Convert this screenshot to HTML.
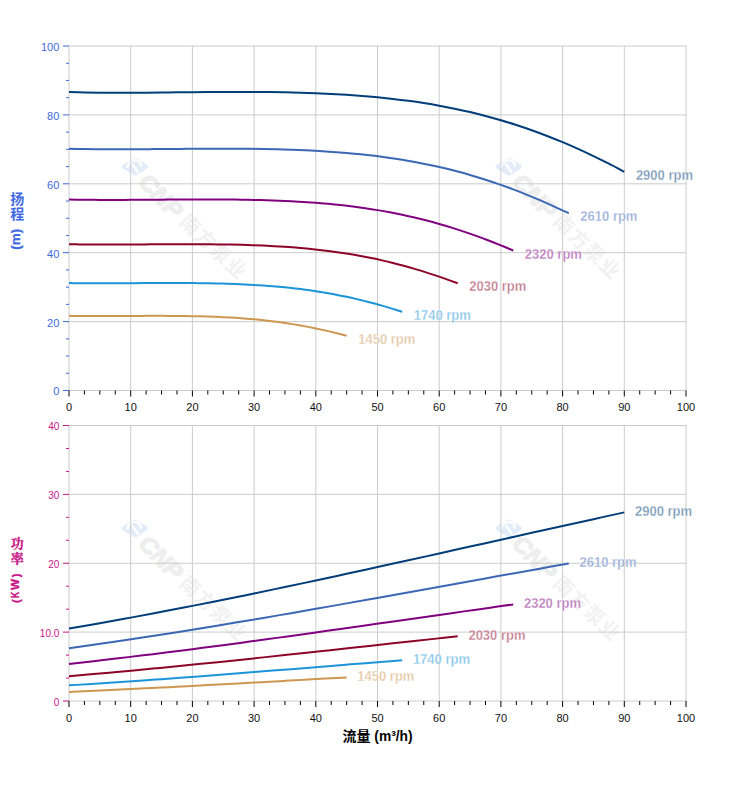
<!DOCTYPE html>
<html><head><meta charset="utf-8"><title>Pump curves</title>
<style>html,body{margin:0;padding:0;background:#fff;font-family:"Liberation Sans",sans-serif}svg{display:block}</style>
</head><body>
<svg width="752" height="797" viewBox="0 0 752 797" style="display:block;font-family:'Liberation Sans', sans-serif">
<rect width="752" height="797" fill="#fff"/>
<g transform="translate(135.0 166.7)"><path d="M-10.5 0 L0.5 -6.4 L10.5 0 L0.2 6.5 Z" fill="#e3edf8" stroke="#e3edf8" stroke-width="5" stroke-linejoin="round"/><path d="M-7.6 0.2 C-7 -4.5 -2.5 -7 1.5 -6.4 C4.6 -5.8 6 -3.2 6 -0.6 M-2.4 -2.2 L2.9 5.3" fill="none" stroke="#fff" stroke-width="2.3" stroke-linecap="round"/><g transform="rotate(45.6)" opacity="0.068"><text x="13.2" y="9.8" font-size="23" font-weight="bold" font-style="italic" fill="#111" stroke="#111" stroke-width="1.5" textLength="51.5" lengthAdjust="spacingAndGlyphs">CNP</text></g><g transform="translate(55.3 57.7) rotate(43.6)" opacity="0.052"><text x="-10 11.1 32.2 53.3" y="7.4" font-size="20" font-weight="bold" fill="#111" font-family="'Liberation Sans', 'Noto Sans CJK SC', sans-serif">南方泵业</text></g></g>
<g transform="translate(508.7 166.7)"><path d="M-10.5 0 L0.5 -6.4 L10.5 0 L0.2 6.5 Z" fill="#e3edf8" stroke="#e3edf8" stroke-width="5" stroke-linejoin="round"/><path d="M-7.6 0.2 C-7 -4.5 -2.5 -7 1.5 -6.4 C4.6 -5.8 6 -3.2 6 -0.6 M-2.4 -2.2 L2.9 5.3" fill="none" stroke="#fff" stroke-width="2.3" stroke-linecap="round"/><g transform="rotate(45.6)" opacity="0.068"><text x="13.2" y="9.8" font-size="23" font-weight="bold" font-style="italic" fill="#111" stroke="#111" stroke-width="1.5" textLength="51.5" lengthAdjust="spacingAndGlyphs">CNP</text></g><g transform="translate(55.3 57.7) rotate(43.6)" opacity="0.052"><text x="-10 11.1 32.2 53.3" y="7.4" font-size="20" font-weight="bold" fill="#111" font-family="'Liberation Sans', 'Noto Sans CJK SC', sans-serif">南方泵业</text></g></g>
<g transform="translate(135.0 528.4)"><path d="M-10.5 0 L0.5 -6.4 L10.5 0 L0.2 6.5 Z" fill="#e3edf8" stroke="#e3edf8" stroke-width="5" stroke-linejoin="round"/><path d="M-7.6 0.2 C-7 -4.5 -2.5 -7 1.5 -6.4 C4.6 -5.8 6 -3.2 6 -0.6 M-2.4 -2.2 L2.9 5.3" fill="none" stroke="#fff" stroke-width="2.3" stroke-linecap="round"/><g transform="rotate(45.6)" opacity="0.068"><text x="13.2" y="9.8" font-size="23" font-weight="bold" font-style="italic" fill="#111" stroke="#111" stroke-width="1.5" textLength="51.5" lengthAdjust="spacingAndGlyphs">CNP</text></g><g transform="translate(55.3 57.7) rotate(43.6)" opacity="0.052"><text x="-10 11.1 32.2 53.3" y="7.4" font-size="20" font-weight="bold" fill="#111" font-family="'Liberation Sans', 'Noto Sans CJK SC', sans-serif">南方泵业</text></g></g>
<g transform="translate(508.7 528.4)"><path d="M-10.5 0 L0.5 -6.4 L10.5 0 L0.2 6.5 Z" fill="#e3edf8" stroke="#e3edf8" stroke-width="5" stroke-linejoin="round"/><path d="M-7.6 0.2 C-7 -4.5 -2.5 -7 1.5 -6.4 C4.6 -5.8 6 -3.2 6 -0.6 M-2.4 -2.2 L2.9 5.3" fill="none" stroke="#fff" stroke-width="2.3" stroke-linecap="round"/><g transform="rotate(45.6)" opacity="0.068"><text x="13.2" y="9.8" font-size="23" font-weight="bold" font-style="italic" fill="#111" stroke="#111" stroke-width="1.5" textLength="51.5" lengthAdjust="spacingAndGlyphs">CNP</text></g><g transform="translate(55.3 57.7) rotate(43.6)" opacity="0.052"><text x="-10 11.1 32.2 53.3" y="7.4" font-size="20" font-weight="bold" fill="#111" font-family="'Liberation Sans', 'Noto Sans CJK SC', sans-serif">南方泵业</text></g></g>
<g stroke="#cccccc" stroke-width="1" fill="none"><line x1="69.00" y1="45.50" x2="69.00" y2="391.00"/><line x1="130.70" y1="45.50" x2="130.70" y2="391.00"/><line x1="192.40" y1="45.50" x2="192.40" y2="391.00"/><line x1="254.10" y1="45.50" x2="254.10" y2="391.00"/><line x1="315.80" y1="45.50" x2="315.80" y2="391.00"/><line x1="377.50" y1="45.50" x2="377.50" y2="391.00"/><line x1="439.20" y1="45.50" x2="439.20" y2="391.00"/><line x1="500.90" y1="45.50" x2="500.90" y2="391.00"/><line x1="562.60" y1="45.50" x2="562.60" y2="391.00"/><line x1="624.30" y1="45.50" x2="624.30" y2="391.00"/><line x1="686.00" y1="45.50" x2="686.00" y2="391.00"/><line x1="68.50" y1="46.00" x2="686.50" y2="46.00"/><line x1="68.50" y1="114.90" x2="686.50" y2="114.90"/><line x1="68.50" y1="183.80" x2="686.50" y2="183.80"/><line x1="68.50" y1="252.70" x2="686.50" y2="252.70"/><line x1="68.50" y1="321.60" x2="686.50" y2="321.60"/><line x1="68.50" y1="390.50" x2="686.50" y2="390.50"/></g>
<g stroke="#cccccc" stroke-width="1" fill="none"><line x1="69.00" y1="425.00" x2="69.00" y2="701.50"/><line x1="130.70" y1="425.00" x2="130.70" y2="701.50"/><line x1="192.40" y1="425.00" x2="192.40" y2="701.50"/><line x1="254.10" y1="425.00" x2="254.10" y2="701.50"/><line x1="315.80" y1="425.00" x2="315.80" y2="701.50"/><line x1="377.50" y1="425.00" x2="377.50" y2="701.50"/><line x1="439.20" y1="425.00" x2="439.20" y2="701.50"/><line x1="500.90" y1="425.00" x2="500.90" y2="701.50"/><line x1="562.60" y1="425.00" x2="562.60" y2="701.50"/><line x1="624.30" y1="425.00" x2="624.30" y2="701.50"/><line x1="686.00" y1="425.00" x2="686.00" y2="701.50"/><line x1="68.50" y1="425.50" x2="686.50" y2="425.50"/><line x1="68.50" y1="494.38" x2="686.50" y2="494.38"/><line x1="68.50" y1="563.25" x2="686.50" y2="563.25"/><line x1="68.50" y1="632.12" x2="686.50" y2="632.12"/><line x1="68.50" y1="701.00" x2="686.50" y2="701.00"/></g>
<g stroke="#4169e1" stroke-width="1"><line x1="63" y1="46.00" x2="69" y2="46.00"/><line x1="66" y1="63.23" x2="69" y2="63.23"/><line x1="66" y1="80.45" x2="69" y2="80.45"/><line x1="66" y1="97.68" x2="69" y2="97.68"/><line x1="63" y1="114.90" x2="69" y2="114.90"/><line x1="66" y1="132.12" x2="69" y2="132.12"/><line x1="66" y1="149.35" x2="69" y2="149.35"/><line x1="66" y1="166.58" x2="69" y2="166.58"/><line x1="63" y1="183.80" x2="69" y2="183.80"/><line x1="66" y1="201.03" x2="69" y2="201.03"/><line x1="66" y1="218.25" x2="69" y2="218.25"/><line x1="66" y1="235.48" x2="69" y2="235.48"/><line x1="63" y1="252.70" x2="69" y2="252.70"/><line x1="66" y1="269.93" x2="69" y2="269.93"/><line x1="66" y1="287.15" x2="69" y2="287.15"/><line x1="66" y1="304.38" x2="69" y2="304.38"/><line x1="63" y1="321.60" x2="69" y2="321.60"/><line x1="66" y1="338.83" x2="69" y2="338.83"/><line x1="66" y1="356.05" x2="69" y2="356.05"/><line x1="66" y1="373.28" x2="69" y2="373.28"/><line x1="63" y1="390.50" x2="69" y2="390.50"/></g>
<g stroke="#c71585" stroke-width="1"><line x1="63" y1="425.50" x2="69" y2="425.50"/><line x1="66" y1="448.46" x2="69" y2="448.46"/><line x1="66" y1="471.42" x2="69" y2="471.42"/><line x1="63" y1="494.38" x2="69" y2="494.38"/><line x1="66" y1="517.33" x2="69" y2="517.33"/><line x1="66" y1="540.29" x2="69" y2="540.29"/><line x1="63" y1="563.25" x2="69" y2="563.25"/><line x1="66" y1="586.21" x2="69" y2="586.21"/><line x1="66" y1="609.17" x2="69" y2="609.17"/><line x1="63" y1="632.12" x2="69" y2="632.12"/><line x1="66" y1="655.08" x2="69" y2="655.08"/><line x1="66" y1="678.04" x2="69" y2="678.04"/><line x1="63" y1="701.00" x2="69" y2="701.00"/></g>
<g stroke="#000" stroke-width="1"><line x1="69.00" y1="390.50" x2="69.00" y2="396.50"/><line x1="84.42" y1="390.50" x2="84.42" y2="394.50"/><line x1="99.85" y1="390.50" x2="99.85" y2="394.50"/><line x1="115.28" y1="390.50" x2="115.28" y2="394.50"/><line x1="130.70" y1="390.50" x2="130.70" y2="396.50"/><line x1="146.12" y1="390.50" x2="146.12" y2="394.50"/><line x1="161.55" y1="390.50" x2="161.55" y2="394.50"/><line x1="176.97" y1="390.50" x2="176.97" y2="394.50"/><line x1="192.40" y1="390.50" x2="192.40" y2="396.50"/><line x1="207.82" y1="390.50" x2="207.82" y2="394.50"/><line x1="223.25" y1="390.50" x2="223.25" y2="394.50"/><line x1="238.68" y1="390.50" x2="238.68" y2="394.50"/><line x1="254.10" y1="390.50" x2="254.10" y2="396.50"/><line x1="269.52" y1="390.50" x2="269.52" y2="394.50"/><line x1="284.95" y1="390.50" x2="284.95" y2="394.50"/><line x1="300.38" y1="390.50" x2="300.38" y2="394.50"/><line x1="315.80" y1="390.50" x2="315.80" y2="396.50"/><line x1="331.23" y1="390.50" x2="331.23" y2="394.50"/><line x1="346.65" y1="390.50" x2="346.65" y2="394.50"/><line x1="362.07" y1="390.50" x2="362.07" y2="394.50"/><line x1="377.50" y1="390.50" x2="377.50" y2="396.50"/><line x1="392.93" y1="390.50" x2="392.93" y2="394.50"/><line x1="408.35" y1="390.50" x2="408.35" y2="394.50"/><line x1="423.77" y1="390.50" x2="423.77" y2="394.50"/><line x1="439.20" y1="390.50" x2="439.20" y2="396.50"/><line x1="454.62" y1="390.50" x2="454.62" y2="394.50"/><line x1="470.05" y1="390.50" x2="470.05" y2="394.50"/><line x1="485.48" y1="390.50" x2="485.48" y2="394.50"/><line x1="500.90" y1="390.50" x2="500.90" y2="396.50"/><line x1="516.33" y1="390.50" x2="516.33" y2="394.50"/><line x1="531.75" y1="390.50" x2="531.75" y2="394.50"/><line x1="547.17" y1="390.50" x2="547.17" y2="394.50"/><line x1="562.60" y1="390.50" x2="562.60" y2="396.50"/><line x1="578.02" y1="390.50" x2="578.02" y2="394.50"/><line x1="593.45" y1="390.50" x2="593.45" y2="394.50"/><line x1="608.88" y1="390.50" x2="608.88" y2="394.50"/><line x1="624.30" y1="390.50" x2="624.30" y2="396.50"/><line x1="639.73" y1="390.50" x2="639.73" y2="394.50"/><line x1="655.15" y1="390.50" x2="655.15" y2="394.50"/><line x1="670.58" y1="390.50" x2="670.58" y2="394.50"/><line x1="686.00" y1="390.50" x2="686.00" y2="396.50"/></g>
<g stroke="#000" stroke-width="1"><line x1="69.00" y1="701.00" x2="69.00" y2="707.00"/><line x1="84.42" y1="701.00" x2="84.42" y2="705.00"/><line x1="99.85" y1="701.00" x2="99.85" y2="705.00"/><line x1="115.28" y1="701.00" x2="115.28" y2="705.00"/><line x1="130.70" y1="701.00" x2="130.70" y2="707.00"/><line x1="146.12" y1="701.00" x2="146.12" y2="705.00"/><line x1="161.55" y1="701.00" x2="161.55" y2="705.00"/><line x1="176.97" y1="701.00" x2="176.97" y2="705.00"/><line x1="192.40" y1="701.00" x2="192.40" y2="707.00"/><line x1="207.82" y1="701.00" x2="207.82" y2="705.00"/><line x1="223.25" y1="701.00" x2="223.25" y2="705.00"/><line x1="238.68" y1="701.00" x2="238.68" y2="705.00"/><line x1="254.10" y1="701.00" x2="254.10" y2="707.00"/><line x1="269.52" y1="701.00" x2="269.52" y2="705.00"/><line x1="284.95" y1="701.00" x2="284.95" y2="705.00"/><line x1="300.38" y1="701.00" x2="300.38" y2="705.00"/><line x1="315.80" y1="701.00" x2="315.80" y2="707.00"/><line x1="331.23" y1="701.00" x2="331.23" y2="705.00"/><line x1="346.65" y1="701.00" x2="346.65" y2="705.00"/><line x1="362.07" y1="701.00" x2="362.07" y2="705.00"/><line x1="377.50" y1="701.00" x2="377.50" y2="707.00"/><line x1="392.93" y1="701.00" x2="392.93" y2="705.00"/><line x1="408.35" y1="701.00" x2="408.35" y2="705.00"/><line x1="423.77" y1="701.00" x2="423.77" y2="705.00"/><line x1="439.20" y1="701.00" x2="439.20" y2="707.00"/><line x1="454.62" y1="701.00" x2="454.62" y2="705.00"/><line x1="470.05" y1="701.00" x2="470.05" y2="705.00"/><line x1="485.48" y1="701.00" x2="485.48" y2="705.00"/><line x1="500.90" y1="701.00" x2="500.90" y2="707.00"/><line x1="516.33" y1="701.00" x2="516.33" y2="705.00"/><line x1="531.75" y1="701.00" x2="531.75" y2="705.00"/><line x1="547.17" y1="701.00" x2="547.17" y2="705.00"/><line x1="562.60" y1="701.00" x2="562.60" y2="707.00"/><line x1="578.02" y1="701.00" x2="578.02" y2="705.00"/><line x1="593.45" y1="701.00" x2="593.45" y2="705.00"/><line x1="608.88" y1="701.00" x2="608.88" y2="705.00"/><line x1="624.30" y1="701.00" x2="624.30" y2="707.00"/><line x1="639.73" y1="701.00" x2="639.73" y2="705.00"/><line x1="655.15" y1="701.00" x2="655.15" y2="705.00"/><line x1="670.58" y1="701.00" x2="670.58" y2="705.00"/><line x1="686.00" y1="701.00" x2="686.00" y2="707.00"/></g>
<g font-size="11" fill="#4169e1" text-anchor="end"><text x="59.3" y="51.00">100</text><text x="59.3" y="120.00">80</text><text x="59.3" y="189.00">60</text><text x="59.3" y="258.00">40</text><text x="59.3" y="327.00">20</text><text x="59.3" y="395.00">0</text></g>
<g font-size="10" fill="#c71585" text-anchor="end"><text x="59.3" y="430.00">40</text><text x="59.3" y="499.00">30</text><text x="59.3" y="568.00">20</text><text x="59.3" y="637.00">10.0</text><text x="59.3" y="706.00">0</text></g>
<g font-size="11" fill="#111" text-anchor="middle"><text x="69.00" y="411.20">0</text><text x="130.70" y="411.20">10</text><text x="192.40" y="411.20">20</text><text x="254.10" y="411.20">30</text><text x="315.80" y="411.20">40</text><text x="377.50" y="411.20">50</text><text x="439.20" y="411.20">60</text><text x="500.90" y="411.20">70</text><text x="562.60" y="411.20">80</text><text x="624.30" y="411.20">90</text><text x="686.00" y="411.20">100</text></g>
<g font-size="11" fill="#111" text-anchor="middle"><text x="69.00" y="722.20">0</text><text x="130.70" y="722.20">10</text><text x="192.40" y="722.20">20</text><text x="254.10" y="722.20">30</text><text x="315.80" y="722.20">40</text><text x="377.50" y="722.20">50</text><text x="439.20" y="722.20">60</text><text x="500.90" y="722.20">70</text><text x="562.60" y="722.20">80</text><text x="624.30" y="722.20">90</text><text x="686.00" y="722.20">100</text></g>
<path d="M69.00 91.99C71.57 92.06 79.28 92.29 84.42 92.40C89.57 92.51 94.71 92.58 99.85 92.63C104.99 92.69 110.13 92.71 115.28 92.72C120.42 92.74 125.56 92.73 130.70 92.71C135.84 92.70 140.98 92.67 146.12 92.63C151.27 92.60 156.41 92.55 161.55 92.50C166.69 92.46 171.83 92.40 176.97 92.36C182.12 92.31 187.26 92.25 192.40 92.21C197.54 92.16 202.68 92.12 207.82 92.08C212.97 92.04 218.11 92.01 223.25 91.99C228.39 91.97 233.53 91.95 238.68 91.95C243.82 91.96 248.96 91.96 254.10 91.99C259.24 92.02 264.38 92.06 269.52 92.12C274.67 92.18 279.81 92.26 284.95 92.36C290.09 92.46 295.23 92.58 300.38 92.72C305.52 92.87 310.66 93.04 315.80 93.24C320.94 93.44 326.08 93.67 331.23 93.93C336.37 94.19 341.51 94.48 346.65 94.81C351.79 95.14 356.93 95.51 362.07 95.91C367.22 96.32 372.36 96.77 377.50 97.26C382.64 97.76 387.78 98.30 392.93 98.89C398.07 99.48 403.21 100.12 408.35 100.81C413.49 101.51 418.63 102.26 423.77 103.07C428.92 103.88 434.06 104.74 439.20 105.68C444.34 106.61 449.48 107.61 454.62 108.67C459.77 109.74 464.91 110.87 470.05 112.08C475.19 113.29 480.33 114.56 485.48 115.92C490.62 117.28 495.76 118.70 500.90 120.21C506.04 121.72 511.18 123.31 516.33 124.98C521.47 126.65 526.61 128.40 531.75 130.23C536.89 132.06 542.03 133.98 547.17 135.97C552.32 137.97 557.46 140.05 562.60 142.20C567.74 144.36 572.88 146.60 578.02 148.92C583.17 151.24 588.31 153.64 593.45 156.10C598.59 158.57 603.73 161.12 608.88 163.72C614.02 166.33 621.73 170.41 624.30 171.75" fill="none" stroke="#003d79" stroke-width="2" stroke-linecap="butt"/>
<text transform="translate(635.90 179.75) scale(1 1.07)" font-size="13" font-weight="bold" fill="#7394b5" stroke="#fff" stroke-width="0.3">2900 rpm</text>
<path d="M69.00 628.54C74.14 627.65 89.57 625.01 99.85 623.19C110.13 621.37 120.42 619.51 130.70 617.62C140.98 615.73 151.27 613.80 161.55 611.84C171.83 609.88 182.12 607.89 192.40 605.88C202.68 603.86 212.97 601.81 223.25 599.74C233.53 597.67 243.82 595.57 254.10 593.45C264.38 591.33 274.67 589.18 284.95 587.02C295.23 584.86 305.52 582.68 315.80 580.48C326.08 578.28 336.37 576.06 346.65 573.83C356.93 571.60 367.22 569.36 377.50 567.10C387.78 564.85 398.07 562.58 408.35 560.31C418.63 558.04 428.92 555.75 439.20 553.47C449.48 551.18 459.77 548.89 470.05 546.59C480.33 544.30 490.62 542.00 500.90 539.71C511.18 537.41 521.47 535.12 531.75 532.83C542.03 530.54 552.32 528.25 562.60 525.97C572.88 523.69 583.17 521.41 593.45 519.15C603.73 516.88 619.16 513.51 624.30 512.38" fill="none" stroke="#003d79" stroke-width="2" stroke-linecap="butt"/>
<text transform="translate(635.00 516.08) scale(1 1.07)" font-size="13" font-weight="bold" fill="#7394b5" stroke="#fff" stroke-width="0.3">2900 rpm</text>
<path d="M69.00 148.70C71.31 148.76 78.25 148.95 82.88 149.04C87.51 149.13 92.14 149.18 96.77 149.23C101.39 149.27 106.02 149.29 110.65 149.30C115.28 149.31 119.90 149.31 124.53 149.29C129.16 149.28 133.78 149.25 138.41 149.23C143.04 149.20 147.67 149.16 152.30 149.12C156.92 149.09 161.55 149.04 166.18 149.00C170.81 148.96 175.43 148.92 180.06 148.88C184.69 148.85 189.31 148.81 193.94 148.78C198.57 148.75 203.20 148.72 207.82 148.71C212.45 148.69 217.08 148.68 221.71 148.68C226.34 148.68 230.96 148.69 235.59 148.71C240.22 148.73 244.84 148.76 249.47 148.81C254.10 148.86 258.73 148.92 263.36 149.00C267.98 149.09 272.61 149.18 277.24 149.30C281.87 149.42 286.49 149.56 291.12 149.72C295.75 149.88 300.38 150.06 305.00 150.28C309.63 150.49 314.26 150.72 318.88 150.99C323.51 151.26 328.14 151.55 332.77 151.89C337.39 152.22 342.02 152.58 346.65 152.98C351.28 153.38 355.91 153.82 360.53 154.29C365.16 154.77 369.79 155.29 374.42 155.85C379.04 156.42 383.67 157.02 388.30 157.68C392.93 158.34 397.55 159.04 402.18 159.80C406.81 160.55 411.44 161.36 416.06 162.22C420.69 163.09 425.32 164.00 429.94 164.98C434.57 165.96 439.20 166.99 443.83 168.09C448.45 169.19 453.08 170.34 457.71 171.57C462.34 172.79 466.96 174.08 471.59 175.43C476.22 176.78 480.85 178.20 485.48 179.68C490.10 181.16 494.73 182.72 499.36 184.33C503.99 185.95 508.61 187.63 513.24 189.38C517.87 191.13 522.49 192.94 527.12 194.82C531.75 196.70 536.38 198.64 541.00 200.64C545.63 202.64 550.26 204.70 554.89 206.81C559.52 208.92 566.46 212.23 568.77 213.31" fill="none" stroke="#3b67b5" stroke-width="2" stroke-linecap="butt"/>
<text transform="translate(580.37 221.31) scale(1 1.07)" font-size="13" font-weight="bold" fill="#93abd6" stroke="#fff" stroke-width="0.3">2610 rpm</text>
<path d="M69.00 648.18C73.63 647.53 87.51 645.60 96.77 644.28C106.02 642.95 115.28 641.59 124.53 640.22C133.78 638.84 143.04 637.43 152.30 636.00C161.55 634.58 170.81 633.12 180.06 631.65C189.31 630.18 198.57 628.69 207.82 627.18C217.08 625.67 226.34 624.14 235.59 622.59C244.84 621.05 254.10 619.49 263.36 617.91C272.61 616.33 281.87 614.74 291.12 613.14C300.38 611.54 309.63 609.92 318.88 608.29C328.14 606.67 337.39 605.03 346.65 603.39C355.90 601.75 365.16 600.09 374.42 598.44C383.67 596.78 392.93 595.11 402.18 593.45C411.44 591.78 420.69 590.11 429.94 588.44C439.20 586.77 448.45 585.09 457.71 583.42C466.96 581.74 476.22 580.07 485.48 578.40C494.73 576.73 503.99 575.06 513.24 573.40C522.50 571.74 531.75 570.08 541.00 568.43C550.26 566.78 564.14 564.32 568.77 563.50" fill="none" stroke="#3b67b5" stroke-width="2" stroke-linecap="butt"/>
<text transform="translate(579.47 567.20) scale(1 1.07)" font-size="13" font-weight="bold" fill="#93abd6" stroke="#fff" stroke-width="0.3">2610 rpm</text>
<path d="M69.00 199.45C71.06 199.50 77.23 199.65 81.34 199.72C85.45 199.79 89.57 199.83 93.68 199.87C97.79 199.90 101.91 199.92 106.02 199.92C110.13 199.93 114.25 199.93 118.36 199.92C122.47 199.91 126.59 199.89 130.70 199.86C134.81 199.84 138.93 199.81 143.04 199.78C147.15 199.75 151.27 199.72 155.38 199.69C159.49 199.66 163.61 199.62 167.72 199.59C171.83 199.56 175.95 199.53 180.06 199.51C184.17 199.49 188.29 199.47 192.40 199.45C196.51 199.44 200.63 199.43 204.74 199.43C208.85 199.43 212.97 199.44 217.08 199.46C221.19 199.47 225.31 199.50 229.42 199.54C233.53 199.58 237.65 199.62 241.76 199.69C245.87 199.75 249.99 199.83 254.10 199.92C258.21 200.02 262.33 200.12 266.44 200.25C270.55 200.38 274.67 200.53 278.78 200.69C282.89 200.86 287.01 201.05 291.12 201.26C295.23 201.47 299.35 201.70 303.46 201.97C307.57 202.23 311.69 202.51 315.80 202.83C319.91 203.15 324.03 203.49 328.14 203.87C332.25 204.25 336.37 204.65 340.48 205.10C344.59 205.55 348.71 206.02 352.82 206.54C356.93 207.06 361.05 207.62 365.16 208.21C369.27 208.81 373.39 209.45 377.50 210.13C381.61 210.81 385.73 211.54 389.84 212.31C393.95 213.08 398.07 213.90 402.18 214.77C406.29 215.64 410.41 216.55 414.52 217.52C418.63 218.48 422.75 219.50 426.86 220.57C430.97 221.64 435.09 222.75 439.20 223.93C443.31 225.10 447.43 226.32 451.54 227.60C455.65 228.88 459.77 230.21 463.88 231.59C467.99 232.97 472.11 234.41 476.22 235.89C480.33 237.37 484.45 238.91 488.56 240.49C492.67 242.07 496.79 243.70 500.90 245.36C505.01 247.03 511.18 249.64 513.24 250.50" fill="none" stroke="#800080" stroke-width="2" stroke-linecap="butt"/>
<text transform="translate(524.84 258.50) scale(1 1.07)" font-size="13" font-weight="bold" fill="#b973b9" stroke="#fff" stroke-width="0.3">2320 rpm</text>
<path d="M69.00 663.90C73.11 663.44 85.45 662.09 93.68 661.16C101.91 660.23 110.13 659.28 118.36 658.31C126.59 657.34 134.81 656.35 143.04 655.35C151.27 654.35 159.49 653.33 167.72 652.30C175.95 651.26 184.17 650.21 192.40 649.15C200.63 648.09 208.85 647.02 217.08 645.93C225.31 644.85 233.53 643.75 241.76 642.64C249.99 641.54 258.21 640.42 266.44 639.29C274.67 638.17 282.89 637.03 291.12 635.89C299.35 634.75 307.57 633.60 315.80 632.44C324.03 631.29 332.25 630.13 340.48 628.97C348.71 627.80 356.93 626.63 365.16 625.46C373.39 624.29 381.61 623.12 389.84 621.94C398.07 620.77 406.29 619.59 414.52 618.42C422.75 617.24 430.97 616.07 439.20 614.89C447.43 613.72 455.65 612.55 463.88 611.38C472.11 610.22 480.33 609.05 488.56 607.89C496.79 606.73 509.13 605.00 513.24 604.43" fill="none" stroke="#800080" stroke-width="2" stroke-linecap="butt"/>
<text transform="translate(523.94 608.13) scale(1 1.07)" font-size="13" font-weight="bold" fill="#b973b9" stroke="#fff" stroke-width="0.3">2320 rpm</text>
<path d="M69.00 244.23C70.80 244.26 76.20 244.38 79.80 244.43C83.40 244.48 87.00 244.52 90.59 244.55C94.19 244.57 97.79 244.58 101.39 244.59C104.99 244.60 108.59 244.59 112.19 244.58C115.79 244.58 119.39 244.56 122.99 244.54C126.59 244.53 130.19 244.50 133.78 244.48C137.38 244.46 140.98 244.43 144.58 244.41C148.18 244.39 151.78 244.36 155.38 244.34C158.98 244.31 162.58 244.29 166.18 244.27C169.78 244.26 173.38 244.24 176.97 244.23C180.57 244.22 184.17 244.21 187.77 244.21C191.37 244.21 194.97 244.22 198.57 244.23C202.17 244.24 205.77 244.26 209.37 244.29C212.97 244.32 216.57 244.36 220.16 244.41C223.76 244.46 227.36 244.52 230.96 244.59C234.56 244.66 238.16 244.74 241.76 244.84C245.36 244.94 248.96 245.05 252.56 245.18C256.16 245.31 259.76 245.45 263.35 245.61C266.95 245.77 270.55 245.95 274.15 246.15C277.75 246.35 281.35 246.57 284.95 246.81C288.55 247.06 292.15 247.32 295.75 247.61C299.35 247.90 302.95 248.21 306.54 248.55C310.14 248.89 313.74 249.26 317.34 249.66C320.94 250.06 324.54 250.48 328.14 250.94C331.74 251.40 335.34 251.88 338.94 252.41C342.54 252.93 346.14 253.48 349.74 254.07C353.33 254.67 356.93 255.29 360.53 255.96C364.13 256.62 367.73 257.32 371.33 258.06C374.93 258.80 378.53 259.58 382.13 260.39C385.73 261.21 389.33 262.07 392.93 262.97C396.52 263.87 400.12 264.80 403.72 265.78C407.32 266.76 410.92 267.78 414.52 268.84C418.12 269.89 421.72 270.99 425.32 272.13C428.92 273.26 432.52 274.44 436.11 275.65C439.71 276.85 443.31 278.10 446.91 279.38C450.51 280.66 455.91 282.66 457.71 283.31" fill="none" stroke="#8c0428" stroke-width="2" stroke-linecap="butt"/>
<text transform="translate(469.31 291.31) scale(1 1.07)" font-size="13" font-weight="bold" fill="#c07589" stroke="#fff" stroke-width="0.3">2030 rpm</text>
<path d="M69.00 676.15C72.60 675.84 83.40 674.94 90.59 674.31C97.79 673.69 104.99 673.05 112.19 672.40C119.39 671.75 126.59 671.09 133.78 670.42C140.98 669.75 148.18 669.06 155.38 668.37C162.58 667.68 169.78 666.98 176.97 666.27C184.17 665.56 191.37 664.84 198.57 664.11C205.77 663.38 212.97 662.65 220.16 661.91C227.36 661.16 234.56 660.41 241.76 659.66C248.96 658.91 256.16 658.15 263.35 657.38C270.55 656.62 277.75 655.85 284.95 655.07C292.15 654.30 299.35 653.52 306.54 652.74C313.74 651.96 320.94 651.18 328.14 650.40C335.34 649.61 342.54 648.83 349.74 648.04C356.93 647.25 364.13 646.46 371.33 645.68C378.53 644.89 385.73 644.10 392.93 643.32C400.12 642.53 407.32 641.75 414.52 640.96C421.72 640.18 428.92 639.40 436.11 638.62C443.31 637.85 454.11 636.69 457.71 636.30" fill="none" stroke="#8c0428" stroke-width="2" stroke-linecap="butt"/>
<text transform="translate(468.41 640.00) scale(1 1.07)" font-size="13" font-weight="bold" fill="#c07589" stroke="#fff" stroke-width="0.3">2030 rpm</text>
<path d="M69.00 283.04C70.54 283.06 75.17 283.15 78.25 283.18C81.34 283.22 84.43 283.25 87.51 283.27C90.59 283.29 93.68 283.30 96.77 283.30C99.85 283.31 102.94 283.30 106.02 283.30C109.11 283.29 112.19 283.28 115.28 283.27C118.36 283.25 121.45 283.24 124.53 283.22C127.61 283.20 130.70 283.19 133.78 283.17C136.87 283.15 139.96 283.13 143.04 283.11C146.13 283.10 149.21 283.08 152.30 283.07C155.38 283.06 158.47 283.04 161.55 283.04C164.64 283.03 167.72 283.02 170.81 283.02C173.89 283.02 176.97 283.03 180.06 283.04C183.15 283.05 186.23 283.06 189.31 283.08C192.40 283.11 195.48 283.13 198.57 283.17C201.66 283.20 204.74 283.25 207.82 283.30C210.91 283.35 214.00 283.41 217.08 283.49C220.17 283.56 223.25 283.64 226.34 283.73C229.42 283.83 232.50 283.93 235.59 284.05C238.68 284.17 241.76 284.30 244.84 284.45C247.93 284.60 251.01 284.76 254.10 284.94C257.19 285.11 260.27 285.31 263.36 285.52C266.44 285.73 269.53 285.96 272.61 286.21C275.69 286.46 278.78 286.73 281.87 287.02C284.95 287.32 288.04 287.63 291.12 287.96C294.20 288.30 297.29 288.66 300.38 289.04C303.46 289.43 306.55 289.83 309.63 290.27C312.71 290.70 315.80 291.16 318.88 291.65C321.97 292.14 325.06 292.65 328.14 293.20C331.22 293.74 334.31 294.31 337.39 294.91C340.48 295.51 343.56 296.14 346.65 296.80C349.73 297.46 352.82 298.15 355.90 298.87C358.99 299.59 362.08 300.34 365.16 301.11C368.25 301.89 371.33 302.70 374.42 303.53C377.50 304.37 380.59 305.23 383.67 306.12C386.75 307.01 389.84 307.92 392.93 308.86C396.01 309.80 400.64 311.27 402.18 311.75" fill="none" stroke="#1c94d9" stroke-width="2" stroke-linecap="butt"/>
<text transform="translate(413.78 319.75) scale(1 1.07)" font-size="13" font-weight="bold" fill="#82c4ea" stroke="#fff" stroke-width="0.3">1740 rpm</text>
<path d="M69.00 685.35C72.09 685.16 81.34 684.59 87.51 684.19C93.68 683.80 99.85 683.40 106.02 682.99C112.19 682.58 118.36 682.16 124.53 681.74C130.70 681.32 136.87 680.89 143.04 680.45C149.21 680.02 155.38 679.57 161.55 679.13C167.72 678.68 173.89 678.23 180.06 677.77C186.23 677.31 192.40 676.85 198.57 676.38C204.74 675.91 210.91 675.44 217.08 674.97C223.25 674.49 229.42 674.01 235.59 673.53C241.76 673.05 247.93 672.57 254.10 672.08C260.27 671.59 266.44 671.10 272.61 670.61C278.78 670.12 284.95 669.63 291.12 669.13C297.29 668.64 303.46 668.14 309.63 667.65C315.80 667.15 321.97 666.66 328.14 666.16C334.31 665.67 340.48 665.17 346.65 664.67C352.82 664.18 358.99 663.69 365.16 663.19C371.33 662.70 377.50 662.21 383.67 661.72C389.84 661.23 399.10 660.50 402.18 660.26" fill="none" stroke="#1c94d9" stroke-width="2" stroke-linecap="butt"/>
<text transform="translate(412.88 663.96) scale(1 1.07)" font-size="13" font-weight="bold" fill="#82c4ea" stroke="#fff" stroke-width="0.3">1740 rpm</text>
<path d="M69.00 315.87C70.29 315.89 74.14 315.95 76.71 315.98C79.28 316.00 81.85 316.02 84.42 316.03C87.00 316.05 89.57 316.05 92.14 316.06C94.71 316.06 97.28 316.06 99.85 316.05C102.42 316.05 104.99 316.04 107.56 316.03C110.13 316.02 112.70 316.01 115.28 316.00C117.85 315.99 120.42 315.98 122.99 315.96C125.56 315.95 128.13 315.94 130.70 315.93C133.27 315.92 135.84 315.90 138.41 315.90C140.98 315.89 143.55 315.88 146.12 315.87C148.70 315.87 151.27 315.86 153.84 315.86C156.41 315.86 158.98 315.87 161.55 315.87C164.12 315.88 166.69 315.89 169.26 315.91C171.83 315.92 174.40 315.94 176.97 315.96C179.55 315.99 182.12 316.02 184.69 316.06C187.26 316.09 189.83 316.13 192.40 316.18C194.97 316.24 197.54 316.29 200.11 316.36C202.68 316.42 205.25 316.49 207.82 316.58C210.40 316.66 212.97 316.75 215.54 316.85C218.11 316.96 220.68 317.07 223.25 317.19C225.82 317.32 228.39 317.45 230.96 317.60C233.53 317.74 236.10 317.90 238.68 318.08C241.25 318.25 243.82 318.44 246.39 318.64C248.96 318.84 251.53 319.06 254.10 319.29C256.67 319.53 259.24 319.78 261.81 320.04C264.38 320.31 266.95 320.59 269.52 320.90C272.10 321.20 274.67 321.52 277.24 321.85C279.81 322.19 282.38 322.55 284.95 322.93C287.52 323.31 290.09 323.70 292.66 324.12C295.23 324.54 297.80 324.97 300.38 325.43C302.95 325.89 305.52 326.37 308.09 326.87C310.66 327.37 313.23 327.89 315.80 328.43C318.37 328.97 320.94 329.53 323.51 330.11C326.08 330.68 328.65 331.28 331.23 331.90C333.80 332.52 336.37 333.15 338.94 333.81C341.51 334.46 345.36 335.48 346.65 335.81" fill="none" stroke="#cc9750" stroke-width="2" stroke-linecap="butt"/>
<text transform="translate(358.25 343.81) scale(1 1.07)" font-size="13" font-weight="bold" fill="#e3c69f" stroke="#fff" stroke-width="0.3">1450 rpm</text>
<path d="M69.00 691.94C71.57 691.83 79.28 691.50 84.42 691.27C89.57 691.05 94.71 690.81 99.85 690.58C104.99 690.34 110.13 690.10 115.28 689.86C120.42 689.61 125.56 689.36 130.70 689.11C135.84 688.86 140.98 688.60 146.12 688.34C151.27 688.08 156.41 687.82 161.55 687.56C166.69 687.29 171.83 687.02 176.97 686.75C182.12 686.48 187.26 686.21 192.40 685.93C197.54 685.66 202.68 685.38 207.82 685.10C212.97 684.83 218.11 684.54 223.25 684.26C228.39 683.98 233.53 683.70 238.68 683.41C243.82 683.13 248.96 682.84 254.10 682.56C259.24 682.27 264.38 681.99 269.52 681.70C274.67 681.41 279.81 681.13 284.95 680.84C290.09 680.55 295.23 680.26 300.38 679.98C305.52 679.69 310.66 679.41 315.80 679.12C320.94 678.84 326.08 678.55 331.23 678.27C336.37 677.99 344.08 677.56 346.65 677.42" fill="none" stroke="#cc9750" stroke-width="2" stroke-linecap="butt"/>
<text transform="translate(357.35 681.12) scale(1 1.07)" font-size="13" font-weight="bold" fill="#e3c69f" stroke="#fff" stroke-width="0.3">1450 rpm</text>
<text x="10.30" y="203.52" font-size="14" font-weight="bold" fill="#4169e1" font-family="'Liberation Sans', 'Noto Sans CJK SC', sans-serif">扬</text>
<text x="10.30" y="218.62" font-size="14" font-weight="bold" fill="#4169e1" font-family="'Liberation Sans', 'Noto Sans CJK SC', sans-serif">程</text>
<text transform="translate(20.2 249.8) rotate(-90)" font-size="13.5" font-weight="bold" fill="#4169e1" stroke="#4169e1" stroke-width="0.3">(m)</text>
<text x="10.70" y="547.94" font-size="13" font-weight="bold" fill="#c71585" stroke="#c71585" stroke-width="0.3" font-family="'Liberation Serif', 'Noto Serif CJK SC', serif">功</text>
<text x="10.70" y="562.94" font-size="13" font-weight="bold" fill="#c71585" stroke="#c71585" stroke-width="0.3" font-family="'Liberation Serif', 'Noto Serif CJK SC', serif">率</text>
<g transform="translate(18.8 603) rotate(-90)" font-weight="bold" fill="#c71585" stroke="#c71585" stroke-width="0.35"><text x="-0.1" y="0.7" font-size="11">(</text><text x="5.0" y="0" font-size="10.2" textLength="6.2" lengthAdjust="spacingAndGlyphs">K</text><text x="13.0" y="0" font-size="10.2" textLength="11" lengthAdjust="spacingAndGlyphs">W</text><text x="25.8" y="0.7" font-size="11">)</text></g>
<text x="342.40 356.40" y="741.02" font-size="14" font-weight="bold" fill="#000" font-family="'Liberation Sans', 'Noto Sans CJK SC', sans-serif">流量</text>
<text x="374.3" y="741" font-size="13.8" font-weight="bold" fill="#000">(m³/h)</text>
</svg>
</body></html>
